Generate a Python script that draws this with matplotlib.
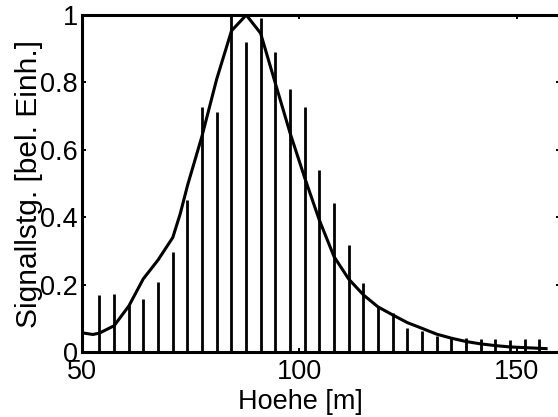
import numpy as np
import matplotlib
matplotlib.use("Agg")
import matplotlib.pyplot as plt

# ─── Data ────────────────────────────────────────────────────────────────────
BIN_WIDTH = 3.375          # range gate [m]
bin_index = np.arange(16, 47)
bar_heights = [
    0.169, 0.172, 0.140, 0.156, 0.209, 0.298, 0.451, 0.726, 0.711, 1.000,
    0.919, 0.990, 0.889, 0.780, 0.726, 0.540, 0.443, 0.318, 0.205, 0.137,
    0.117, 0.071, 0.062, 0.048, 0.042, 0.042, 0.038, 0.038, 0.035, 0.038,
    0.039,
]

curve_x = [
    50.0, 52.5, 54.0, 57.4, 60.8, 64.1, 67.5, 70.9, 72.6, 74.3, 77.6, 81.0,
    84.4, 87.8, 91.1, 94.5, 97.9, 101.3, 104.6, 108.0, 111.4, 114.8, 118.1,
    121.5, 124.9, 128.3, 131.6, 135.0, 138.4, 141.8, 145.1, 148.5, 151.9,
    155.2, 156.8,
]
curve_y = [
    0.057, 0.052, 0.056, 0.078, 0.137, 0.217, 0.273, 0.340, 0.410, 0.495,
    0.640, 0.810, 0.953, 1.000, 0.946, 0.797, 0.649, 0.515, 0.392, 0.283,
    0.216, 0.169, 0.134, 0.110, 0.087, 0.070, 0.053, 0.041, 0.031, 0.024,
    0.019, 0.015, 0.013, 0.011, 0.010,
]

x_ticks = [50, 100, 150]
y_ticks = [0, 0.2, 0.4, 0.6, 0.8, 1]
y_tick_labels = ["0", "0.2", "0.4", "0.6", "0.8", "1"]

# ─── Style ───────────────────────────────────────────────────────────────────
plt.rcParams["font.family"] = ["Liberation Sans", "DejaVu Sans"]
FS = 19.5

fig = plt.figure(figsize=(5.58, 4.17), dpi=100)
# right edge of the axes lies just outside the picture, as in the original
ax = fig.add_axes([82 / 558, 65 / 417, (560 - 82) / 558, 337 / 417])

bar_x = bin_index * BIN_WIDTH
ax.vlines(bar_x, 0, bar_heights, color="black", linewidth=2.0)
ax.plot(curve_x, curve_y, color="black", linewidth=2.2)

ax.set_xlim(50, 160)
ax.set_ylim(0, 1)
ax.set_xticks(x_ticks)
ax.set_yticks(y_ticks)
ax.set_yticklabels(y_tick_labels)

ax.tick_params(direction="in", length=3, width=1.4, labelsize=FS,
               top=True, right=True, color="black")
ax.tick_params(axis="x", pad=5)
ax.tick_params(axis="y", pad=3)
for sp in ax.spines.values():
    sp.set_linewidth(2.2)

ax.set_xlabel("Hoehe [m]", fontsize=FS)
ax.set_ylabel("Signallstg. [bel. Einh.]", fontsize=21.5)
ax.xaxis.set_label_coords((300 - 82) / 478, -0.11)
ax.yaxis.set_label_coords(-0.082, 0.5)

fig.savefig("out.png", dpi=100)
